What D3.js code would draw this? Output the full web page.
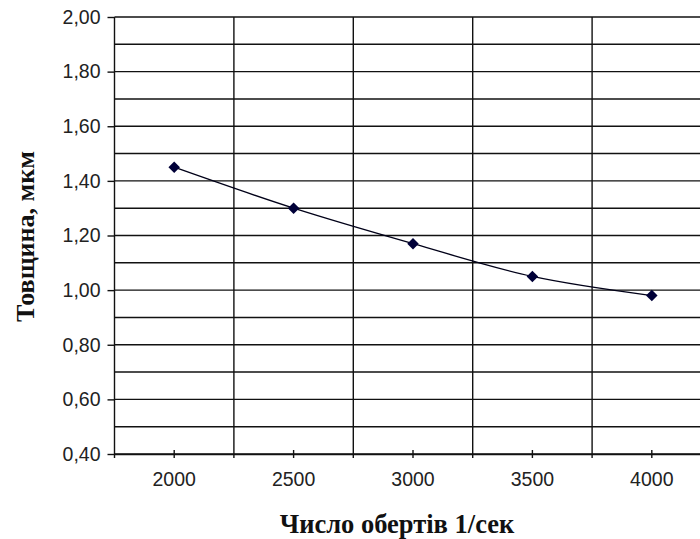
<!DOCTYPE html>
<html>
<head>
<meta charset="utf-8">
<script src="https://cdn.jsdelivr.net/npm/d3@7"></script>
<style>
  body { margin: 0; background: #fff; }
  svg { display: block; }
</style>
</head>
<body>
<svg width="700" height="539"></svg>
<script>
// values
let categories = ['2000', '2500', '3000', '3500', '4000']
let thickness = [1.45, 1.30, 1.17, 1.05, 0.98]
let yTicks = [0.4, 0.6, 0.8, 1.0, 1.2, 1.4, 1.6, 1.8, 2.0]
let yGrid = d3.range(4, 21).map(d => d / 10)

let width = 700
let height = 539
let margin = { top: 17, bottom: 85, left: 114.5, right: -11.5 }

let fmt = d => d.toFixed(2).replace('.', ',')

let xScale = d3.scaleBand()
  .domain(categories)
  .range([margin.left, width - margin.right])

let yScale = d3.scaleLinear()
  .domain([0.4, 2.0])
  .range([height - margin.bottom, margin.top])

let svg = d3.select('svg')

// horizontal gridlines every 0.1
svg.append('g')
  .selectAll('line')
  .data(yGrid)
  .join('line')
  .attr('x1', margin.left)
  .attr('x2', width)
  .attr('y1', d => yScale(d))
  .attr('y2', d => yScale(d))
  .attr('stroke', '#111')
  .attr('stroke-width', 1.4)

// vertical gridlines on category borders
let borders = categories.slice(1).map(c => xScale(c))
svg.append('g')
  .selectAll('line')
  .data(borders)
  .join('line')
  .attr('x1', d => d)
  .attr('x2', d => d)
  .attr('y1', margin.top)
  .attr('y2', height - margin.bottom + 4)
  .attr('stroke', '#111')
  .attr('stroke-width', 1.4)

// y axis
let yAxis = d3.axisLeft(yScale)
  .tickValues(yTicks)
  .tickFormat(fmt)
  .tickSize(7)
  .tickPadding(7)

let gy = svg.append('g')
  .attr('transform', 'translate(' + [margin.left, 0] + ')')
  .call(yAxis)
gy.select('.domain')
  .attr('d', 'M0,' + yScale(2.0) + 'V' + (yScale(0.4) + 4))
gy.selectAll('line, .domain').attr('stroke', '#111').attr('stroke-width', 1.4)
gy.selectAll('text')
  .attr('font-family', 'Liberation Sans, Arial, sans-serif')
  .attr('font-size', 19.5)
  .attr('fill', '#222')

// x axis
let xAxis = d3.axisBottom(xScale)
  .tickSizeInner(4)
  .tickSizeOuter(0)
  .tickPadding(14)

let gx = svg.append('g')
  .attr('transform', 'translate(' + [0, height - margin.bottom] + ')')
  .call(xAxis)
gx.selectAll('.tick line').attr('y1', -4)
gx.selectAll('line, .domain').attr('stroke', '#111').attr('stroke-width', 1.4)
gx.selectAll('text')
  .attr('font-family', 'Liberation Sans, Arial, sans-serif')
  .attr('font-size', 19.5)
  .attr('fill', '#222')

// smoothed data line
let cx = c => xScale(c) + xScale.bandwidth() / 2
let points = categories.map((c, i) => ({ c: c, v: thickness[i] }))

let line = d3.line()
  .x(d => cx(d.c))
  .y(d => yScale(d.v))
  .curve(d3.curveCatmullRom)

svg.append('path')
  .attr('d', line(points))
  .attr('fill', 'none')
  .attr('stroke', '#000018')
  .attr('stroke-width', 1.3)

svg.append('g')
  .selectAll('path')
  .data(points)
  .join('path')
  .attr('d', d3.symbol(d3.symbolDiamond2, 85))
  .attr('transform', d => 'translate(' + [cx(d.c), yScale(d.v)] + ')')
  .attr('fill', '#000038')

// axis titles
svg.append('text')
  .attr('x', 397)
  .attr('y', 533)
  .attr('text-anchor', 'middle')
  .attr('font-family', 'Liberation Serif, Times New Roman, serif')
  .attr('font-weight', 'bold')
  .attr('font-size', 26.5)
  .attr('fill', '#111')
  .text('Число обертів 1/сек')

svg.append('text')
  .attr('transform', 'translate(' + [34, 236.5] + ') rotate(-90)')
  .attr('text-anchor', 'middle')
  .attr('font-family', 'Liberation Serif, Times New Roman, serif')
  .attr('font-weight', 'bold')
  .attr('font-size', 26)
  .attr('fill', '#111')
  .text('Товщина, мкм')
</script>
</body>
</html>
